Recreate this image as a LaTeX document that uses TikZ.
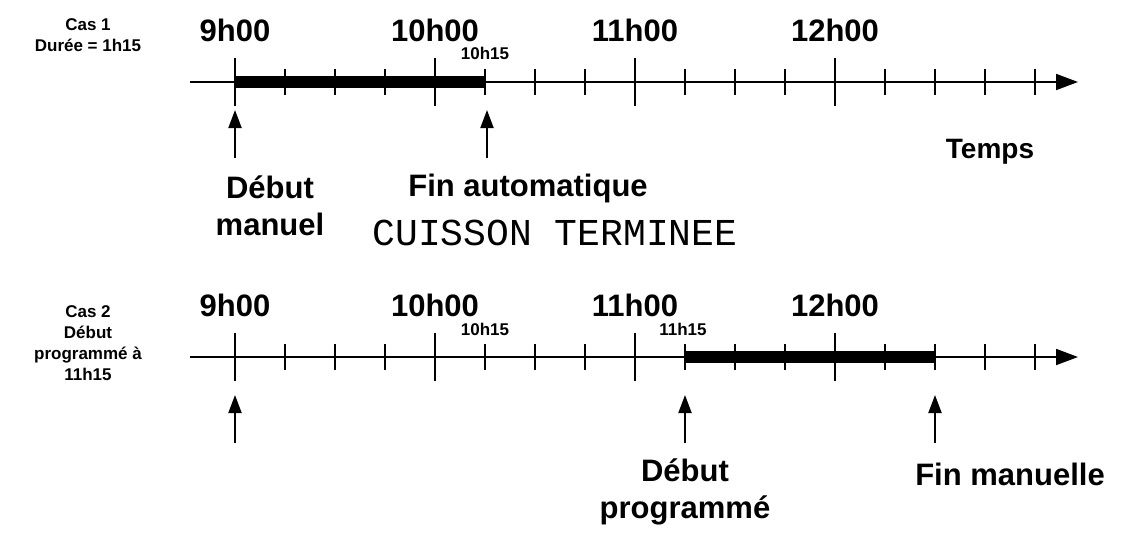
\documentclass[tikz,border=0pt]{standalone}
\usepackage{fontspec}
\setmainfont{Liberation Sans}
\newfontfamily\monofont{Liberation Mono}
\usetikzlibrary{arrows.meta}
\tikzset{
  big/.style={font=\fontsize{31}{37}\selectfont\bfseries},
  small/.style={font=\fontsize{17}{18}\selectfont\bfseries},
  cas/.style={font=\fontsize{17}{21}\selectfont\bfseries, align=center},
  axe/.style={line width=2pt, -{Triangle[length=22pt,width=16pt]}},
  fleche/.style={line width=2pt, -{Triangle[length=18pt,width=13pt]}},
  barre/.style={line width=12pt},
}
\begin{document}
\begin{tikzpicture}[x=1pt, y=-1pt]
\useasboundingbox (0,0) rectangle (1148,543);

\def\ya{82};
\def\yb{357};

% cas 1
\node[cas] (cas1) at (88,35) {Cas 1\\Durée = 1h15};
\coordinate (d1) at (190,\ya);
\coordinate (f1) at (1078,\ya);
\draw[axe] (d1) -- (f1);
\foreach \i in {285,335,385,485,535,585,685,735,785,885,935,985,1035}
  \draw[line width=1.6pt] (\i,\ya-13) -- (\i,\ya+13);
\foreach \i in {235,435,635,835}
  \draw[line width=1.6pt] (\i,\ya-24) -- (\i,\ya+24);
\draw[barre] (235,\ya) -- (485,\ya);
\node[big] (h9a) at (235,30) {9h00};
\node[big] (h10a) at (435,30) {10h00};
\node[big] (h11a) at (635,30) {11h00};
\node[big] (h12a) at (835,30) {12h00};
\node[small] (q10a) at (485,53) {10h15};
\coordinate (s1) at (235,158);
\coordinate (t1) at (235,110);
\coordinate (s2) at (487,158);
\coordinate (t2) at (487,110);
\draw[fleche] (s1) -- (t1);
\draw[fleche] (s2) -- (t2);
\node[big, align=center] (debm) at (270,206) {Début\\manuel};
\node[big] (fina) at (528,188) {Fin automatique};
\node[font=\fontsize{38}{40}\selectfont\monofont] (cuis) at (555,233) {CUISSON TERMINEE};
\node[font=\fontsize{28}{30}\selectfont\bfseries] (temps) at (990,152) {Temps};

% cas 2
\node[cas] (cas2) at (88,343) {Cas 2\\Début\\programmé à\\11h15};
\coordinate (d2) at (190,\yb);
\coordinate (f2) at (1078,\yb);
\draw[axe] (d2) -- (f2);
\foreach \i in {285,335,385,485,535,585,685,735,785,885,935,985,1035}
  \draw[line width=1.6pt] (\i,\yb-13) -- (\i,\yb+13);
\foreach \i in {235,435,635,835}
  \draw[line width=1.6pt] (\i,\yb-24) -- (\i,\yb+24);
\draw[barre] (685,\yb) -- (935,\yb);
\node[big] (h9b) at (235,305) {9h00};
\node[big] (h10b) at (435,305) {10h00};
\node[big] (h11b) at (635,305) {11h00};
\node[big] (h12b) at (835,305) {12h00};
\node[small] (q10b) at (485,329) {10h15};
\node[small] (q11b) at (683,329) {11h15};
\coordinate (s3) at (235,443);
\coordinate (t3) at (235,395);
\coordinate (s4) at (685,443);
\coordinate (t4) at (685,395);
\coordinate (s5) at (935,443);
\coordinate (t5) at (935,395);
\draw[fleche] (s3) -- (t3);
\draw[fleche] (s4) -- (t4);
\draw[fleche] (s5) -- (t5);
\node[big, align=center] (debp) at (685,492) {Début\\programmé};
\node[big] (finm) at (1010,474) {Fin manuelle};
\end{tikzpicture}
\end{document}
